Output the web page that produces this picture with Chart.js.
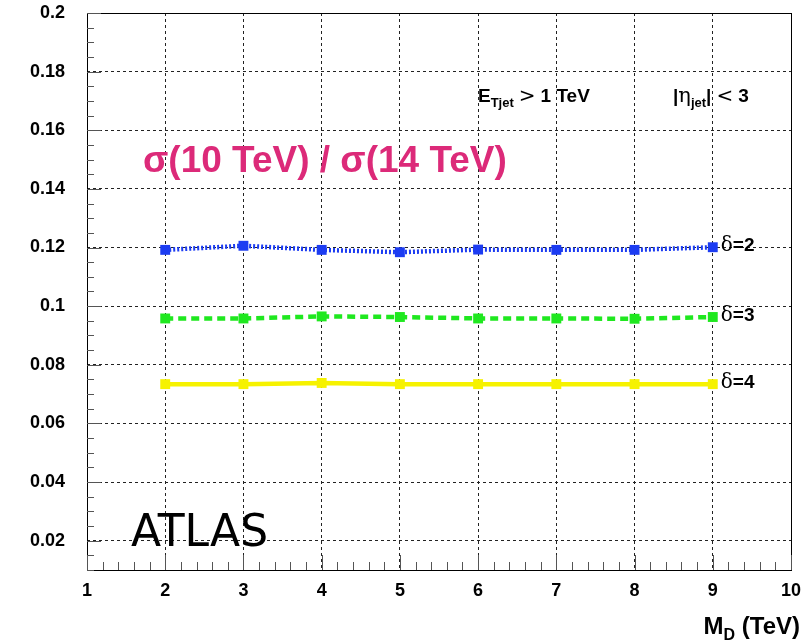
<!DOCTYPE html>
<html>
<head>
<meta charset="utf-8">
<script src="https://cdn.jsdelivr.net/npm/chart.js@4/dist/chart.umd.min.js"></script>
<style>
  html, body { margin: 0; padding: 0; background: #fff; }
  #wrap { width: 812px; height: 643px; }
</style>
</head>
<body>
<div id="wrap"><canvas id="ratio"></canvas></div>
<script>
// M_D values (TeV) and sigma(10 TeV)/sigma(14 TeV) for each delta
const massPoints = [2, 3, 4, 5, 6, 7, 8, 9];
const delta2 = [0.1192, 0.1206, 0.1192, 0.1184, 0.1193, 0.1192, 0.1192, 0.1201];
const delta3 = [0.0958, 0.0958, 0.0965, 0.0963, 0.0958, 0.0958, 0.0957, 0.0963];
const delta4 = [0.0734, 0.0734, 0.0738, 0.0734, 0.0734, 0.0734, 0.0734, 0.0734];
const seriesNames = ['2', '3', '4'];

const xTicks = [1, 2, 3, 4, 5, 6, 7, 8, 9, 10];
const yTicks = [0.02, 0.04, 0.06, 0.08, 0.1, 0.12, 0.14, 0.16, 0.18, 0.2];

const FONT = "'Liberation Sans', Arial, Helvetica, sans-serif";

function toXY(vals) {
  return vals.map((v, i) => ({ x: massPoints[i], y: v }));
}

// frame, inward ticks and text labels drawn on top of the chart area
const decorations = {
  id: 'decorations',
  afterDatasetsDraw(chart) {
    const ctx = chart.ctx;
    const a = chart.chartArea;
    const xs = chart.scales.x;
    const ys = chart.scales.y;

    ctx.save();
    ctx.strokeStyle = '#000';
    ctx.lineWidth = 1;
    ctx.strokeRect(Math.round(a.left) + 0.5, Math.round(a.top) + 0.5,
      Math.round(a.right - a.left), Math.round(a.bottom - a.top));

    // ticks along the bottom, pointing up
    ctx.strokeStyle = '#555';
    for (let v = 1; v <= 10.001; v += 0.2) {
      const px = Math.round(xs.getPixelForValue(v)) + 0.5;
      const major = Math.abs(v - Math.round(v)) < 0.01;
      ctx.beginPath();
      ctx.moveTo(px, a.bottom);
      ctx.lineTo(px, a.bottom - (major ? 15 : 8));
      ctx.stroke();
    }
    // ticks along the left side, pointing right
    for (let v = 0.01; v <= 0.2001; v += 0.005) {
      const py = Math.round(ys.getPixelForValue(v)) + 0.5;
      const major = Math.abs(v / 0.02 - Math.round(v / 0.02)) < 0.01;
      ctx.beginPath();
      ctx.moveTo(a.left, py);
      ctx.lineTo(a.left + (major ? 14 : 7), py);
      ctx.stroke();
    }

    // delta labels next to the last point of each curve
    ctx.fillStyle = '#000';
    ctx.textBaseline = 'middle';
    chart.data.datasets.forEach((ds, i) => {
      const last = ds.data[ds.data.length - 1];
      const px = xs.getPixelForValue(last.x) + 8;
      const py = ys.getPixelForValue(last.y) - 1;
      ctx.font = '20px "DejaVu Serif", serif';
      ctx.textAlign = 'left';
      ctx.fillText('\u03b4', px, py);
      const w = ctx.measureText('\u03b4').width;
      ctx.font = 'bold 19px ' + FONT;
      ctx.fillText('=' + seriesNames[i], px + w, py);
    });

    // big pink ratio label
    ctx.fillStyle = '#dc2a79';
    ctx.textBaseline = 'alphabetic';
    ctx.font = 'bold 37px ' + FONT;
    ctx.fillText('\u03c3(10 TeV) / \u03c3(14 TeV)', 143, 172);

    // cut labels
    ctx.fillStyle = '#000';
    let x = 478;
    const base = 102;
    ctx.font = 'bold 19px ' + FONT;
    ctx.fillText('E', x, base); x += ctx.measureText('E').width;
    ctx.font = 'bold 13px ' + FONT;
    ctx.fillText('Tjet', x, base + 5); x += ctx.measureText('Tjet').width + 5;
    ctx.font = '20px "DejaVu Sans", sans-serif';
    ctx.fillText('>', x, base); x += ctx.measureText('>').width + 5;
    ctx.font = 'bold 19px ' + FONT;
    ctx.fillText('1 TeV', x, base);

    x = 673;
    ctx.font = 'bold 19px ' + FONT;
    ctx.fillText('|', x, base); x += ctx.measureText('|').width;
    ctx.font = '21px "DejaVu Serif", serif';
    ctx.fillText('\u03b7', x, base); x += ctx.measureText('\u03b7').width;
    ctx.font = 'bold 13px ' + FONT;
    ctx.fillText('jet', x, base + 5); x += ctx.measureText('jet').width;
    ctx.font = 'bold 19px ' + FONT;
    ctx.fillText('|', x, base); x += ctx.measureText('|').width + 5;
    ctx.font = '20px "DejaVu Sans", sans-serif';
    ctx.fillText('<', x, base); x += ctx.measureText('<').width + 5;
    ctx.font = 'bold 19px ' + FONT;
    ctx.fillText('3', x, base);

    // experiment tag
    ctx.font = '44px "DejaVu Sans", sans-serif';
    ctx.fillText('ATLAS', 131, 546);

    // x axis title, right aligned
    ctx.textAlign = 'right';
    ctx.font = 'bold 24px ' + FONT;
    ctx.fillText('(TeV)', 800, 634);
    const tw = ctx.measureText(' (TeV)').width;
    ctx.font = 'bold 16px ' + FONT;
    ctx.fillText('D', 800 - tw, 640);
    const dw = ctx.measureText('D').width;
    ctx.font = 'bold 24px ' + FONT;
    ctx.fillText('M', 800 - tw - dw, 634);
    ctx.restore();
  }
};

const ctx = document.getElementById('ratio').getContext('2d');

new Chart(ctx, {
  type: 'line',
  data: {
    datasets: [
      {
        label: 'delta=2',
        data: toXY(delta2),
        borderColor: '#1c3cf2',
        backgroundColor: '#1c3cf2',
        borderWidth: 4.5,
        borderDash: [2, 2],
        pointStyle: 'rect',
        pointRadius: 7,
        pointBorderWidth: 0,
      },
      {
        label: 'delta=3',
        data: toXY(delta3),
        borderColor: '#1fe81f',
        backgroundColor: '#1fe81f',
        borderWidth: 4.5,
        borderDash: [8, 5],
        pointStyle: 'rect',
        pointRadius: 7,
        pointBorderWidth: 0,
      },
      {
        label: 'delta=4',
        data: toXY(delta4),
        borderColor: '#f6f200',
        backgroundColor: '#f6f200',
        borderWidth: 4.5,
        pointStyle: 'rect',
        pointRadius: 7,
        pointBorderWidth: 0,
      },
    ],
  },
  options: {
    responsive: true,
    maintainAspectRatio: false,
    animation: false,
    layout: {
      padding: { top: 13, right: 21, left: 0, bottom: 0 },
    },
    scales: {
      x: {
        type: 'linear',
        min: 1,
        max: 10,
        afterBuildTicks: scale => { scale.ticks = xTicks.map(v => ({ value: v })); },
        afterFit: scale => {
          scale.height = 73;
          scale.paddingLeft = 0;
          scale.paddingRight = 0;
        },
        ticks: {
          color: '#000',
          font: { family: FONT, size: 18, weight: 'bold' },
          padding: 10,
          maxRotation: 0,
          autoSkip: false,
        },
        grid: {
          color: '#222',
          lineWidth: 1,
          drawTicks: false,
        },
        border: { display: false, dash: [3, 3] },
      },
      y: {
        type: 'linear',
        min: 0.01,
        max: 0.2,
        afterBuildTicks: scale => { scale.ticks = yTicks.map(v => ({ value: v })); },
        afterFit: scale => {
          scale.width = 87;
          scale.paddingTop = 0;
          scale.paddingBottom = 0;
        },
        ticks: {
          color: '#000',
          font: { family: FONT, size: 18, weight: 'bold' },
          padding: 22,
          autoSkip: false,
          callback: v => String(+v.toFixed(2)),
        },
        grid: {
          color: '#222',
          lineWidth: 1,
          drawTicks: false,
        },
        border: { display: false, dash: [3, 3] },
      },
    },
    plugins: {
      legend: { display: false },
      tooltip: { enabled: false },
      title: { display: false },
    },
  },
  plugins: [decorations],
});
</script>
</body>
</html>
